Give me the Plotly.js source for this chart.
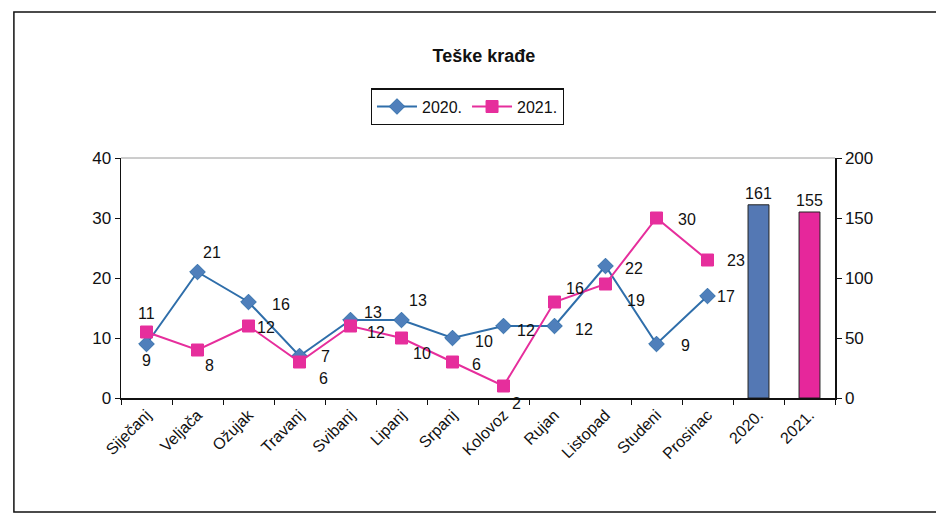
<!DOCTYPE html>
<html>
<head>
<meta charset="utf-8">
<script src="https://cdn.plot.ly/plotly-3.0.1.min.js"></script>
<style>
  html, body { margin: 0; padding: 0; background: #ffffff; }
  #chart { width: 936px; height: 522px; }
</style>
</head>
<body>
<div id="chart"></div>
<script>
// ---- data ----
const months = ["Siječanj", "Veljača", "Ožujak", "Travanj", "Svibanj", "Lipanj",
                "Srpanj", "Kolovoz", "Rujan", "Listopad", "Studeni", "Prosinac"];
const values2020 = [9, 21, 16, 7, 13, 13, 10, 12, 12, 22, 9, 17];
const values2021 = [11, 8, 12, 6, 12, 10, 6, 2, 16, 19, 30, 23];
const totalLabels = ["2020.", "2021."];
const totalValues = [161, 155];
const seriesNames = ["2020.", "2021."];
const chartTitle = "Teške krađe";

// ---- styles ----
const FONT = '"Liberation Sans", Arial, sans-serif';
const BLUE_LINE = '#2F6EAA';
const BLUE_MARK = '#4F7FBB';
const PINK = '#E62E9C';
const BAR_BLUE = '#5478B4';
const BAR_PINK = '#E6279B';

// label offsets in pixels (dx right, dy down) relative to each point
const off2020 = [[0, 16], [14, -20], [32, 2], [26, 0], [22, -8], [16, -20],
                 [31, 3], [22, 4], [29, 3], [28, 2], [29, 1], [18, 0]];
const off2021 = [[0, -19], [12, 15], [17, 1], [24, 16], [25, 6], [20, 15],
                 [24, 2], [13, 17], [20, -14], [30, 16], [30, 1], [28, 0]];

const categories = months.concat(totalLabels);

const traces = [
  {
    type: 'scatter', mode: 'lines+markers',
    name: seriesNames[0],
    x: months, y: values2020,
    line: { color: BLUE_LINE, width: 2 },
    marker: { symbol: 'diamond', size: 12, color: BLUE_MARK, line: { color: BLUE_LINE, width: 1 } },
    cliponaxis: false
  },
  {
    type: 'scatter', mode: 'lines+markers',
    name: seriesNames[1],
    x: months, y: values2021,
    line: { color: PINK, width: 2 },
    marker: { symbol: 'square', size: 12, color: PINK, line: { color: PINK, width: 1 } },
    cliponaxis: false
  },
  {
    type: 'bar',
    x: totalLabels, y: totalValues,
    yaxis: 'y2',
    width: 0.41,
    showlegend: false,
    text: totalValues.map(String),
    textposition: 'outside',
    constraintext: 'none',
    textfont: { family: FONT, size: 16, color: '#111' },
    marker: { color: [BAR_BLUE, BAR_PINK], line: { color: '#222', width: 1 } },
    cliponaxis: false
  }
];

function labelAnnotations(xs, ys, offs) {
  return ys.map((v, i) => ({
    x: xs[i], y: v, xref: 'x', yref: 'y',
    text: String(v), showarrow: false,
    xanchor: 'center', yanchor: 'middle',
    xshift: offs[i][0], yshift: -offs[i][1],
    font: { family: FONT, size: 16, color: '#111' }
  }));
}

const layout = {
  width: 936, height: 522,
  margin: { l: 121, r: 101, t: 158, b: 124 },
  paper_bgcolor: '#ffffff', plot_bgcolor: '#ffffff',
  font: { family: FONT, size: 15, color: '#111' },
  title: {
    text: '<b>' + chartTitle + '</b>',
    font: { family: FONT, size: 18, color: '#111' },
    x: 0.517, xanchor: 'center',
    y: 0.893, yanchor: 'middle'
  },
  showlegend: true,
  legend: {
    orientation: 'h',
    x: 0.485, xanchor: 'center',
    y: 1.29, yanchor: 'top',
    bordercolor: '#111', borderwidth: 1.2,
    bgcolor: '#ffffff',
    font: { family: FONT, size: 16, color: '#111' },
    itemwidth: 40
  },
  xaxis: {
    type: 'category',
    categoryorder: 'array', categoryarray: categories,
    range: [-0.5, 13.5],
    showline: true, linecolor: '#111', linewidth: 1.5,
    ticks: 'outside', tickson: 'boundaries', ticklen: 5, tickcolor: '#111',
    tickangle: -45,
    tickfont: { family: FONT, size: 16, color: '#111' },
    showgrid: false, zeroline: false,
    fixedrange: true
  },
  yaxis: {
    range: [0, 40], dtick: 10,
    showline: true, linecolor: '#111', linewidth: 1.5,
    ticks: 'outside', ticklen: 5, tickcolor: '#111',
    tickfont: { family: FONT, size: 17, color: '#111' },
    showgrid: false, zeroline: false
  },
  yaxis2: {
    range: [0, 200], dtick: 50,
    overlaying: 'y', side: 'right',
    showline: true, linecolor: '#111', linewidth: 1.5,
    ticks: 'outside', ticklen: 5, tickcolor: '#111',
    tickfont: { family: FONT, size: 17, color: '#111' },
    showgrid: false, zeroline: false
  },
  annotations: labelAnnotations(months, values2020, off2020)
    .concat(labelAnnotations(months, values2021, off2021)),
  shapes: [
    // plot-area top border (light gray)
    { type: 'line', xref: 'paper', yref: 'paper', x0: 0, x1: 1, y0: 1, y1: 1,
      line: { color: '#9a9a9a', width: 1 } },
    // outer frame of the chart
    { type: 'rect', xref: 'paper', yref: 'paper',
      x0: -0.150, x1: 1.16, y0: -0.475, y1: 1.608,
      line: { color: '#111', width: 1.5 } }
  ]
};

Plotly.newPlot('chart', traces, layout, { displayModeBar: false, staticPlot: true });
</script>
</body>
</html>
